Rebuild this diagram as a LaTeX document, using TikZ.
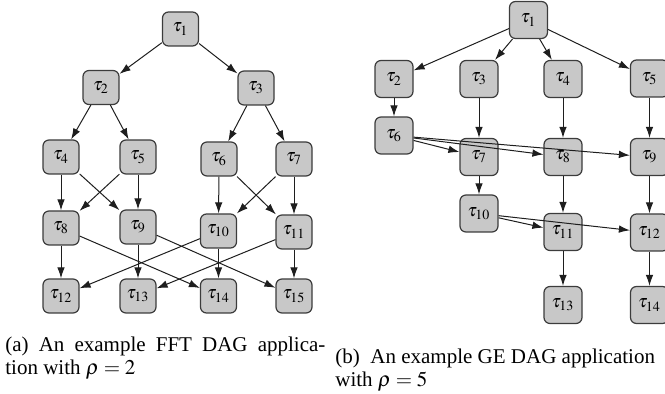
\documentclass[tikz,border=0pt]{standalone}
\usepackage{mathptmx}
\usepackage[no-math]{fontspec}
\setmainfont{Liberation Serif}
\usetikzlibrary{arrows.meta,positioning}
\definecolor{ink}{RGB}{30,30,30}
\definecolor{taskfill}{RGB}{200,200,200}
\definecolor{taskline}{RGB}{60,60,60}
\tikzset{
  task/.style={draw=taskline,fill=taskfill,rounded corners=3pt,line width=0.6pt,
    minimum width=18pt,minimum height=17pt,inner sep=0pt,font=\small},
  bigtask/.style={task,minimum width=19pt,minimum height=18.5pt},
  arr/.style={-{Latex[length=5.5pt,width=3.8pt]},ink,line width=0.5pt},
  subcap/.style={font=\fontsize{10.5}{11.2}\selectfont,text width=160pt,
    align=justify,inner sep=0pt,anchor=base west},
}

\begin{document}
\begin{tikzpicture}[x=0.5pt,y=-0.5pt]
  \useasboundingbox (0,0) rectangle (665,394);
  % (a) FFT graph
  \node[task] (a1) at (180.5,29) {$\tau_{1}$};
  \node[task] (a2) at (101,87.5) {$\tau_{2}$};
  \node[task] (a3) at (256,88) {$\tau_{3}$};
  \node[task] (a4) at (61,157) {$\tau_{4}$};
  \node[task] (a5) at (138,157) {$\tau_{5}$};
  \node[task] (a6) at (219,159) {$\tau_{6}$};
  \node[task] (a7) at (294,159) {$\tau_{7}$};
  \node[task] (a8) at (61,228) {$\tau_{8}$};
  \node[task] (a9) at (138,227) {$\tau_{9}$};
  \node[task] (a10) at (218.5,231) {$\tau_{10}$};
  \node[task] (a11) at (294,232) {$\tau_{11}$};
  \node[task] (a12) at (61,296) {$\tau_{12}$};
  \node[task] (a13) at (138,296) {$\tau_{13}$};
  \node[task] (a14) at (218.5,296) {$\tau_{14}$};
  \node[task] (a15) at (294,296) {$\tau_{15}$};
  \draw[arr] (a1) -- (a2);  \draw[arr] (a1) -- (a3);
  \draw[arr] (a2) -- (a4);  \draw[arr] (a2) -- (a5);
  \draw[arr] (a3) -- (a6);  \draw[arr] (a3) -- (a7);
  \draw[arr] (a4) -- (a8);  \draw[arr] (a4) -- (a9);
  \draw[arr] (a5) -- (a8);  \draw[arr] (a5) -- (a9);
  \draw[arr] (a6) -- (a10); \draw[arr] (a6) -- (a11);
  \draw[arr] (a7) -- (a10); \draw[arr] (a7) -- (a11);
  \draw[arr] (a8) -- (a12); \draw[arr] (a8) -- (a14);
  \draw[arr] (a9) -- (a13); \draw[arr] (a9) -- (a15);
  \draw[arr] (a10) -- (a12); \draw[arr] (a10) -- (a14);
  \draw[arr] (a11) -- (a13); \draw[arr] (a11) -- (a15);
  % (b) GE graph
  \node[bigtask] (b1) at (528.5,20) {$\tau_{1}$};
  \node[bigtask] (b2) at (394,79) {$\tau_{2}$};
  \node[bigtask] (b3) at (479,79) {$\tau_{3}$};
  \node[bigtask] (b4) at (563,79) {$\tau_{4}$};
  \node[bigtask] (b5) at (649.5,78.5) {$\tau_{5}$};
  \node[bigtask] (b6) at (394,135.5) {$\tau_{6}$};
  \node[bigtask] (b7) at (479,157) {$\tau_{7}$};
  \node[bigtask] (b8) at (563,157) {$\tau_{8}$};
  \node[bigtask] (b9) at (649.5,157) {$\tau_{9}$};
  \node[bigtask] (b10) at (479,213.5) {$\tau_{10}$};
  \node[bigtask] (b11) at (563,232) {$\tau_{11}$};
  \node[bigtask] (b12) at (649.5,232.5) {$\tau_{12}$};
  \node[bigtask] (b13) at (563,305) {$\tau_{13}$};
  \node[bigtask] (b14) at (649.5,305) {$\tau_{14}$};
  \draw[arr] (b1) -- (b2);  \draw[arr] (b1) -- (b3);
  \draw[arr] (b1) -- (b4);  \draw[arr] (b1) -- (b5);
  \draw[arr] (b2) -- (b6);  \draw[arr] (b3) -- (b7);
  \draw[arr] (b4) -- (b8);  \draw[arr] (b5) -- (b9);
  \draw[arr] (b6) -- (b7);  \draw[arr] (b6) -- (b8);
  \draw[arr] (b6) -- (b9);  \draw[arr] (b7) -- (b10);
  \draw[arr] (b8) -- (b11); \draw[arr] (b9) -- (b12);
  \draw[arr] (b10) -- (b11); \draw[arr] (b10) -- (b12);
  \draw[arr] (b11) -- (b13); \draw[arr] (b12) -- (b14);
  % captions
  \node[subcap] (capa) at (5,352)
    {(a) An example FFT DAG applica-\linebreak tion with $\rho=2$};
  \node[subcap] (capb) at (335,364)
    {(b)\enspace An example GE DAG application\\ with $\rho=5$};
\end{tikzpicture}
\end{document}
